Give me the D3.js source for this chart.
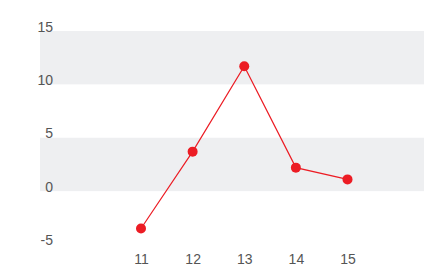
<!DOCTYPE html>
<html>
<head>
<meta charset="utf-8">
<script src="https://cdn.jsdelivr.net/npm/d3@7"></script>
<style>
  body { margin: 0; background: #fff; }
  svg { font-family: "Liberation Sans", Arial, sans-serif; }
  .tick text { fill: #555; font-size: 14px; }
</style>
</head>
<body>
<svg id="chart" width="424" height="267"></svg>
<script>
var categories = [11, 12, 13, 14, 15];
var values = [-3.5, 3.7, 11.7, 2.2, 1.1];
var yTicks = [-5, 0, 5, 10, 15];

var svg = d3.select("#chart");

var x = d3.scaleLinear().domain([11, 15]).range([141, 347.5]);
var y = d3.scaleLinear().domain([-5, 15]).range([244.5, 31]);

// alternating bands
var bands = [[10, 15], [0, 5]];
svg.selectAll("rect.band")
  .data(bands)
  .enter().append("rect")
    .attr("class", "band")
    .attr("x", 40)
    .attr("width", 384)
    .attr("y", function(d) { return y(d[1]); })
    .attr("height", function(d) { return y(d[0]) - y(d[1]); })
    .attr("fill", "#eeeff1");

// y axis labels
var yAxis = svg.append("g")
    .attr("transform", "translate(53,0)")
    .call(d3.axisLeft(y).tickValues(yTicks).tickSize(0).tickPadding(0).tickFormat(function(d) { return String(d); }));
yAxis.select(".domain").remove();
yAxis.selectAll("text").attr("dy", "0").attr("y", 0).attr("text-anchor", "end");

// x axis labels
var xAxis = svg.append("g")
    .attr("transform", "translate(0,255)")
    .call(d3.axisBottom(x).tickValues(categories).tickSize(0).tickPadding(0).tickFormat(function(d) { return String(d); }));
xAxis.select(".domain").remove();
xAxis.selectAll("text").attr("dy", "0").attr("y", 9);

var pts = categories.map(function(c, i) { return [c, values[i]]; });

svg.append("path")
    .datum(pts)
    .attr("fill", "none")
    .attr("stroke", "#ec1c24")
    .attr("stroke-width", 1.2)
    .attr("d", d3.line().x(function(d) { return x(d[0]); }).y(function(d) { return y(d[1]); }));

svg.selectAll("circle.pt")
  .data(pts)
  .enter().append("circle")
    .attr("class", "pt")
    .attr("cx", function(d) { return x(d[0]); })
    .attr("cy", function(d) { return y(d[1]); })
    .attr("r", 5)
    .attr("fill", "#ec1c24");
</script>
</body>
</html>
